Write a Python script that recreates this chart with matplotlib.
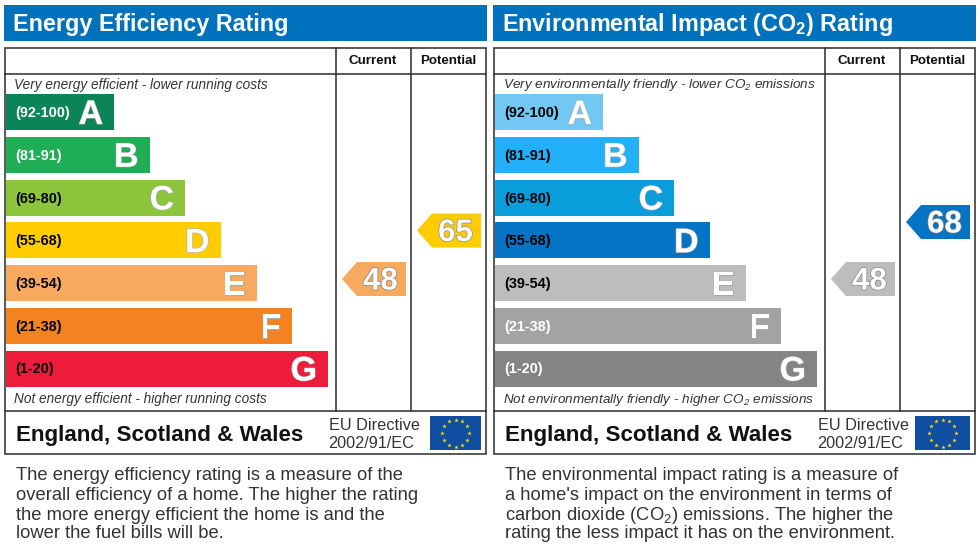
import matplotlib
matplotlib.use("Agg")
import numpy as np
import matplotlib.pyplot as plt
from matplotlib.patches import Polygon, Rectangle
import matplotlib.patheffects as pe

plt.rcParams['font.family'] = ['Liberation Sans', 'DejaVu Sans']
plt.rcParams['mathtext.default'] = 'regular'

# ---- data ----
bands = ['A', 'B', 'C', 'D', 'E', 'F', 'G']
ranges = ['(92-100)', '(81-91)', '(69-80)', '(55-68)', '(39-54)', '(21-38)', '(1-20)']
bar_lengths = [108, 143.5, 179, 214.5, 250.5, 286, 322]
energy_colors = ['#0b8457', '#1fae56', '#8cc43c', '#ffcc00', '#f7a960', '#f58220', '#ee1c3b']
env_colors = ['#73c8f3', '#22b1f8', '#0a9ddb', '#0674c4', '#bdbdbd', '#a3a3a3', '#848484']
energy_range_colors = ['white', 'white', 'black', 'black', 'black', 'black', 'black']
env_range_colors = ['black', 'black', 'black', 'black', 'black', 'white', 'white']

energy_current, energy_potential = 48, 65
env_current, env_potential = 48, 68
energy_current_color, energy_potential_color = '#f7a960', '#ffcc00'
env_current_color, env_potential_color = '#bdbdbd', '#0674c4'

energy_title = 'Energy Efficiency Rating'
env_title = 'Environmental Impact (CO$_2$) Rating'
energy_top = 'Very energy efficient - lower running costs'
energy_bottom = 'Not energy efficient - higher running costs'
env_top = 'Very environmentally friendly - lower CO$_2$ emissions'
env_bottom = 'Not environmentally friendly - higher CO$_2$ emissions'
energy_body = ['The energy efficiency rating is a measure of the',
               'overall efficiency of a home. The higher the rating',
               'the more energy efficient the home is and the',
               'lower the fuel bills will be.']
env_body = ['The environmental impact rating is a measure of',
            "a home's impact on the environment in terms of",
            'carbon dioxide (CO$_2$) emissions. The higher the',
            'rating the less impact it has on the environment.']

BLUE = '#0071bc'
DARK = '#333333'
LW = 1.15

fig = plt.figure(figsize=(9.8, 5.48), dpi=100, facecolor='white')
ax = fig.add_axes([0, 0, 1, 1])
ax.set_xlim(0, 980)
ax.set_ylim(548, 0)
ax.axis('off')


def score_y(v):
    return 279 - 2.85 * (v - 48)


def arrow(x0, v, color, label):
    yc = score_y(v)
    h = 17
    ax.add_patch(Polygon([(x0, yc), (x0 + 15, yc - h), (x0 + 64, yc - h),
                          (x0 + 64, yc + h), (x0 + 15, yc + h)],
                         closed=True, fc=color, ec='none', zorder=3))
    ax.text(x0 + 38.5, yc + 2.5, str(label), color='white', fontsize=22.5, fontweight='bold',
            ha='center', va='center', zorder=4,
            path_effects=[pe.withStroke(linewidth=1.0, foreground='#888888')])


def flag(x0, x1, y0=416, y1=450):
    ax.add_patch(Rectangle((x0, y0), x1 - x0, y1 - y0, fc='#0f4ea0', ec='none', zorder=3))
    cx, cy = (x0 + x1) / 2, (y0 + y1) / 2
    th = np.arange(12) * np.pi / 6
    ax.scatter(cx + 13.5 * np.cos(th), cy + 13.5 * np.sin(th), marker='*', s=11,
               color='#ffe400', linewidths=0, zorder=4)


def panel(dx, title, top, bottom, colors, range_colors, cur, pot, cur_c, pot_c, body, flag_x0, note_size):
    L, R = 5 + dx, 486 + dx
    # header
    ax.add_patch(Rectangle((L - 1, 4.5), R - L + 2, 36, fc=BLUE, ec='none', zorder=1))
    ax.text(13 + dx, 25, title, color='white', fontsize=16.8, fontweight='bold',
            ha='left', va='center', zorder=2)
    # table frame
    ax.add_patch(Rectangle((L, 47.5), R - L, 406.5, fc='white', ec=DARK, lw=LW, zorder=2))
    ax.plot([L, R], [73.5, 73.5], color=DARK, lw=LW, zorder=2)
    ax.plot([L, R], [411, 411], color=DARK, lw=LW, zorder=2)
    for xc in (336 + dx, 411 + dx):
        ax.plot([xc, xc], [47.5, 411], color=DARK, lw=LW, zorder=2)
    ax.text(372.5 + dx, 60.5, 'Current', fontsize=9.6, fontweight='bold', ha='center',
            va='center', color='#111111', zorder=3)
    ax.text(448 + dx, 60.5, 'Potential', fontsize=9.6, fontweight='bold', ha='center',
            va='center', color='#111111', zorder=3)
    ax.text(14 + dx, 85, top, fontsize=note_size, style='italic', ha='left', va='center',
            color='#333333', zorder=3)
    ax.text(14 + dx, 399.5, bottom, fontsize=note_size, style='italic', ha='left', va='center',
            color='#333333', zorder=3)
    # bars
    ys = 112 + 42.75 * np.arange(len(bands))
    ax.barh(ys, bar_lengths, height=36, left=6 + dx, color=colors, linewidth=0, zorder=3)
    for y, ln, b, r, rc in zip(ys, bar_lengths, bands, ranges, range_colors):
        ax.text(15 + dx, y + 1, r, fontsize=10.4, fontweight='bold', color=rc,
                ha='left', va='center', zorder=4)
        ax.text(6 + dx + ln - 11, y + 3.5, b, fontsize=24.5, fontweight='bold', color='white',
                ha='right', va='center', zorder=4,
                path_effects=[pe.withStroke(linewidth=0.8, foreground='#aaaaaa')])
    # score arrows
    arrow(342 + dx, cur, cur_c, cur)
    arrow(417 + dx, pot, pot_c, pot)
    # footer
    ax.text(16 + dx, 435, 'England, Scotland & Wales', fontsize=16.1, fontweight='bold',
            ha='left', va='center', color='#111111', zorder=3)
    ax.text(329 + dx, 425, 'EU Directive', fontsize=11.7, ha='left', va='center',
            color='#333333', zorder=3)
    ax.text(328.5 + dx, 443, '2002/91/EC', fontsize=11.7, ha='left', va='center',
            color='#333333', zorder=3)
    flag(flag_x0, 481 + dx)
    # body text
    for y, line in zip([475, 495, 515, 534], body):
        ax.text(16 + dx, y, line, fontsize=13.2, ha='left', va='center', color='#333333', zorder=3)


panel(0, energy_title, energy_top, energy_bottom, energy_colors, energy_range_colors,
      energy_current, energy_potential, energy_current_color, energy_potential_color,
      energy_body, 430, 9.8)
panel(489, env_title, env_top, env_bottom, env_colors, env_range_colors,
      env_current, env_potential, env_current_color, env_potential_color,
      env_body, 915, 9.7)

fig.savefig('out.png', dpi=100, facecolor='white')
